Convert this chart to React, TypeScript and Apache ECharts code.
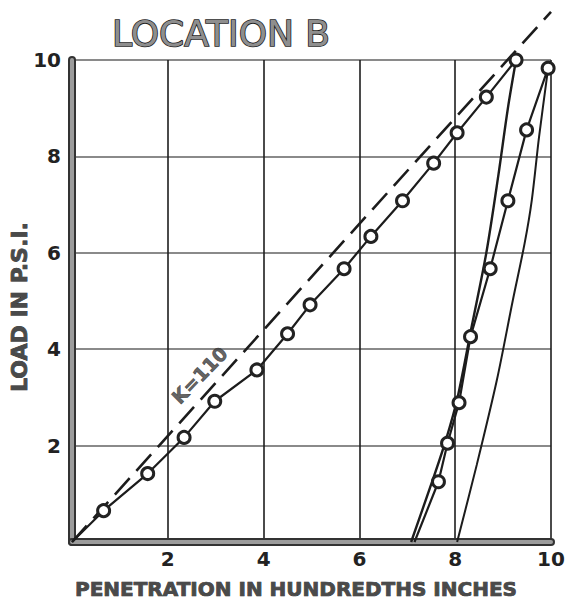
import React, { useEffect, useRef } from "react";
import * as echarts from "echarts";

const xTicks = [0, 2, 4, 6, 8, 10];
const yTicks = [0, 2, 4, 6, 8, 10];

// First loading cycle (open circles)
const load1X = [0, 0.66, 1.58, 2.34, 2.98, 3.86, 4.5, 4.97, 5.68, 6.24, 6.9, 7.55, 8.04, 8.65, 9.27];
const load1Y = [0, 0.65, 1.42, 2.17, 2.92, 3.57, 4.32, 4.92, 5.67, 6.34, 7.08, 7.86, 8.49, 9.23, 10.0];

// First unloading
const unload1X = [9.27, 9.1, 8.9, 8.65, 8.35, 8.05, 7.8, 7.5, 7.08];
const unload1Y = [10.0, 9.0, 7.6, 6.0, 4.5, 3.0, 2.1, 1.2, 0];

// Second loading cycle (open circles)
const load2X = [7.15, 7.65, 7.84, 8.08, 8.32, 8.73, 9.1, 9.49, 9.94];
const load2Y = [0, 1.25, 2.05, 2.89, 4.26, 5.67, 7.08, 8.55, 9.83];

// Second unloading
const unload2X = [9.94, 9.75, 9.6, 9.45, 9.2, 8.87, 8.45, 8.04];
const unload2Y = [9.83, 8.4, 7.1, 6.2, 5.0, 3.36, 1.6, 0];

// K = 110 reference line
const kLineX = [0, 10];
const kLineY = [0, 11];
const kLabel = "K=110";
const kLabelPos = [2.66, 3.46];

const titleText = "LOCATION B";
const xTitle = "PENETRATION IN HUNDREDTHS INCHES";
const yTitle = "LOAD IN P.S.I.";

const FONT = "DejaVu Sans";
const INK = "#1c1c1c";

function pairs(xs: number[], ys: number[], noFirstSymbol = false) {
  return xs.map((x, i) =>
    noFirstSymbol && i === 0 ? { value: [x, ys[i]], symbol: "none" } : { value: [x, ys[i]] }
  );
}

export default function App() {
  const ref = useRef<HTMLDivElement>(null);

  useEffect(() => {
    if (!ref.current) return;
    const chart = echarts.init(ref.current, null, { renderer: "svg" });

    const circleStyle = {
      color: "#ffffff",
      borderColor: "#222222",
      borderWidth: 3,
    };

    const option: any = {
      animation: false,
      backgroundColor: "#ffffff",
      grid: { left: 72, right: 21, top: 60, bottom: 66 },
      xAxis: [
        {
          type: "value",
          min: xTicks[0],
          max: xTicks[xTicks.length - 1],
          interval: 2,
          axisLine: { show: true, onZero: false, lineStyle: { color: "#333333", width: 8 } },
          axisTick: { show: false },
          axisLabel: {
            margin: 7,
            color: "#222222",
            fontFamily: FONT,
            fontWeight: "bold",
            fontSize: 20,
            formatter: (v: number) => (v === 0 ? "" : String(v)),
          },
          splitLine: { show: true, lineStyle: { color: "#1e1e1e", width: 1.6 } },
        },
        {
          type: "value",
          min: xTicks[0],
          max: xTicks[xTicks.length - 1],
          interval: 2,
          position: "bottom",
          offset: 0,
          axisLine: { show: true, onZero: false, lineStyle: { color: "#9c9c9c", width: 4 } },
          axisTick: { show: false },
          axisLabel: { show: false },
          splitLine: { show: false },
        },
      ],
      yAxis: [
        {
          type: "value",
          min: yTicks[0],
          max: yTicks[yTicks.length - 1],
          interval: 2,
          axisLine: { show: true, onZero: false, lineStyle: { color: "#333333", width: 8 } },
          axisTick: { show: false },
          axisLabel: {
            margin: 11,
            color: "#222222",
            fontFamily: FONT,
            fontWeight: "bold",
            fontSize: 20,
            formatter: (v: number) => (v === 0 ? "" : String(v)),
          },
          splitLine: { show: true, lineStyle: { color: "#8a8a8a", width: 2.2 } },
        },
        {
          type: "value",
          min: yTicks[0],
          max: yTicks[yTicks.length - 1],
          interval: 2,
          position: "left",
          offset: 0,
          axisLine: { show: true, onZero: false, lineStyle: { color: "#9c9c9c", width: 4 } },
          axisTick: { show: false },
          axisLabel: { show: false },
          splitLine: { show: false },
        },
      ],
      graphic: [
        {
          type: "text",
          x: 221,
          y: 33,
          style: {
            text: titleText,
            fontFamily: FONT,
            fontSize: 36,
            fill: "#8e8e8e",
            stroke: "#1e1e1e",
            lineWidth: 1.6,
            align: "center",
            verticalAlign: "middle",
          },
        },
        {
          type: "text",
          x: 296,
          y: 589,
          style: {
            text: xTitle,
            fontFamily: FONT,
            fontSize: 20,
            fontWeight: "bold",
            fill: "#4a4a4a",
            stroke: "#1e1e1e",
            lineWidth: 0.7,
            align: "center",
            verticalAlign: "middle",
          },
        },
        {
          type: "text",
          x: 19,
          y: 307,
          rotation: Math.PI / 2,
          style: {
            text: yTitle,
            fontFamily: FONT,
            fontSize: 22,
            fontWeight: "bold",
            fill: "#4a4a4a",
            stroke: "#1e1e1e",
            lineWidth: 0.7,
            align: "center",
            verticalAlign: "middle",
          },
        },
      ],
      series: [
        {
          type: "line",
          data: pairs(kLineX, kLineY),
          showSymbol: false,
          clip: false,
          lineStyle: { color: INK, width: 2.6, type: [22, 10] },
          z: 3,
        },
        {
          type: "line",
          data: pairs(unload1X, unload1Y),
          showSymbol: false,
          smooth: 0.3,
          lineStyle: { color: INK, width: 2.4 },
          z: 3,
        },
        {
          type: "line",
          data: pairs(unload2X, unload2Y),
          showSymbol: false,
          smooth: 0.3,
          lineStyle: { color: INK, width: 2 },
          z: 3,
        },
        {
          type: "line",
          data: pairs(load1X, load1Y, true),
          symbol: "circle",
          symbolSize: 12,
          showAllSymbol: true,
          clip: false,
          lineStyle: { color: INK, width: 2.2 },
          itemStyle: circleStyle,
          z: 4,
        },
        {
          type: "line",
          data: pairs(load2X, load2Y, true),
          symbol: "circle",
          symbolSize: 12,
          showAllSymbol: true,
          clip: false,
          lineStyle: { color: INK, width: 2.2 },
          itemStyle: circleStyle,
          z: 4,
        },
        {
          type: "scatter",
          data: [kLabelPos],
          symbolSize: 1,
          itemStyle: { color: "transparent" },
          label: {
            show: true,
            position: "inside",
            formatter: kLabel,
            rotate: 46,
            fontFamily: FONT,
            fontWeight: "bold",
            fontSize: 19,
            color: "#3a3a3a",
            textBorderColor: "#1e1e1e",
            textBorderWidth: 0.6,
          },
          z: 5,
        },
      ],
    };

    chart.setOption(option);
    return () => chart.dispose();
  }, []);

  return (
    <div
      ref={ref}
      style={{ position: "fixed", left: 0, top: 0, width: 572, height: 608, background: "#fff" }}
    />
  );
}
